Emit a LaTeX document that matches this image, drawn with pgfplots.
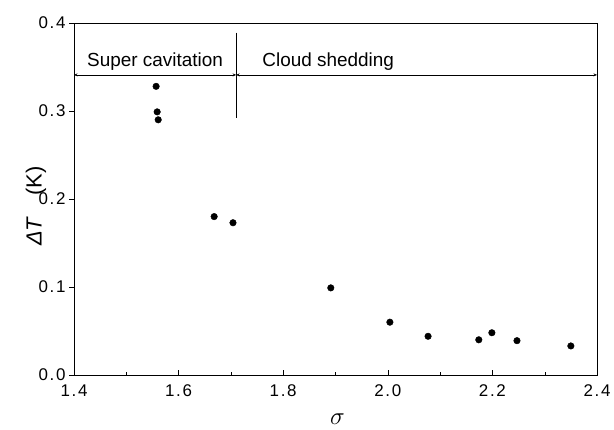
\documentclass[border=0pt]{standalone}
\usepackage{fontspec}
\setmainfont{Liberation Sans}
\newfontfamily\tickfont[LetterSpace=10]{Liberation Sans}
\usepackage{pgfplots}
\pgfplotsset{compat=1.18}
\usetikzlibrary{arrows.meta}
\begin{document}
\begin{tikzpicture}
\begin{axis}[
  scale only axis,
  width=523bp, height=352bp,
  xmin=1.4, xmax=2.4, ymin=0, ymax=0.4,
  xtick={1.4,1.6,...,2.4},
  ytick={0,0.1,0.2,0.3,0.4},
  minor x tick num=1,
  /pgf/number format/fixed,
  /pgf/number format/fixed zerofill,
  /pgf/number format/precision=1,
  /pgf/number format/assume math mode=true,
  tick label style={font=\tickfont\fontsize{17}{20}\selectfont},
  xticklabel style={yshift=-6bp},
  xtick pos=bottom, ytick pos=left,
  x tick style={black, thin},
  y tick style={black, thin},
  ytick align=outside, xtick align=inside,
  major tick length=5pt, minor tick length=3.5pt,
  axis line style={black, thick},
  xlabel={\fontsize{23}{25}\selectfont$\sigma$},
  ylabel={\fontsize{22}{24}\selectfont\textit{ΔT}\hspace{21bp}(K)},
  xlabel style={at={(axis description cs:0.5,0)}, anchor=center, yshift=-44bp, xshift=2bp},
  ylabel style={at={(axis description cs:0,0.48)}, anchor=center, yshift=38bp},
  clip=false,
]
\addplot[only marks, mark=*, mark size=3.3pt, black] coordinates {
(1.557,0.328) (1.559,0.299) (1.561,0.290)
(1.668,0.180) (1.704,0.173)
(1.891,0.099) (2.004,0.060) (2.077,0.044)
(2.174,0.040) (2.199,0.048) (2.247,0.039) (2.350,0.033)
};
\draw[thick, {Stealth[length=3.5pt,width=3pt]}-{Stealth[length=3.5pt,width=3pt]}] (axis cs:1.4,0.341) -- (axis cs:1.71,0.341);
\draw[thick, {Stealth[length=3.5pt,width=3pt]}-{Stealth[length=3.5pt,width=3pt]}] (axis cs:1.71,0.341) -- (axis cs:2.4,0.341);
\draw[thick] (axis cs:1.71,0.389) -- (axis cs:1.71,0.292);
\node[font=\fontsize{19}{22}\selectfont, anchor=base] at (axis cs:1.555,0.351) {Super cavitation};
\node[font=\fontsize{19}{22}\selectfont, anchor=base] at (axis cs:1.886,0.351) {Cloud shedding};
\end{axis}
\pgfresetboundingbox
\path[use as bounding box] ([shift={(-74bp,-55bp)}]current axis.south west) rectangle ([shift={(17bp,23bp)}]current axis.north east);
\end{tikzpicture}
\end{document}
